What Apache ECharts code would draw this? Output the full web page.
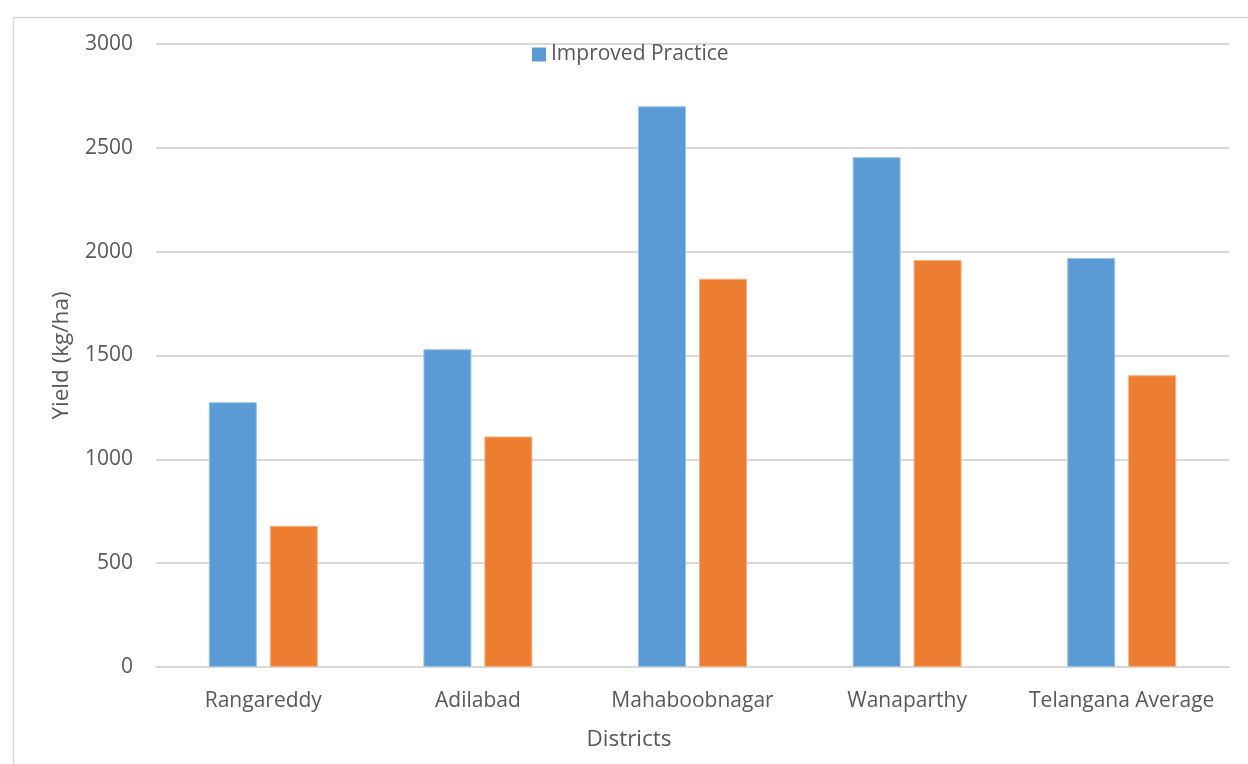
<!DOCTYPE html>
<html>
<head>
<meta charset="utf-8">
<script src="https://cdn.jsdelivr.net/npm/echarts@6/dist/echarts.min.js"></script>
<style>
  html, body { margin: 0; padding: 0; background: #ffffff; }
  #chart { width: 1248px; height: 764px; }
</style>
</head>
<body>
<div id="chart"></div>
<script>
// Yield by district, improved vs farmers' practice (kg/ha)
const districts = ['Rangareddy', 'Adilabad', 'Mahaboobnagar', 'Wanaparthy', 'Telangana Average'];
const improvedPractice = [1275, 1530, 2700, 2455, 1970];
const farmersPractice = [680, 1110, 1870, 1960, 1405];
const yTicks = { min: 0, max: 3000, step: 500 };

const textColor = '#595959';
const gridColor = '#d9d9d9';
const fontFamily = '"Open Sans", "Noto Sans", sans-serif';

const chart = echarts.init(document.getElementById('chart'), null, { renderer: 'canvas' });

chart.setOption({
  backgroundColor: '#ffffff',
  animation: false,
  textStyle: { fontFamily: fontFamily, color: textColor },
  graphic: [{
    type: 'rect',
    left: 11, top: 15,
    shape: { width: 1260, height: 800 },
    style: { fill: 'none', stroke: gridColor, lineWidth: 1.5 },
    silent: true, z: -10
  }],
  legend: {
    data: ['Improved Practice'],
    top: 39,
    left: 527,
    itemWidth: 14,
    itemHeight: 14,
    itemGap: 6,
    icon: 'rect',
    itemStyle: { borderWidth: 0 },
    textStyle: { fontSize: 21, color: textColor, fontFamily: fontFamily }
  },
  grid: { left: 156, right: 19, top: 44, bottom: 97, containLabel: false },
  xAxis: {
    type: 'category',
    data: districts,
    name: 'Districts',
    nameLocation: 'middle',
    nameGap: 61,
    nameTextStyle: {
      fontSize: 22.5, color: textColor, fontFamily: fontFamily,
      padding: [0, 127, 0, 0]
    },
    axisLine: { show: true, lineStyle: { color: gridColor, width: 2 } },
    axisTick: { show: false },
    axisLabel: { fontSize: 21, color: textColor, margin: 24, interval: 0, fontFamily: fontFamily }
  },
  yAxis: {
    type: 'value',
    min: yTicks.min,
    max: yTicks.max,
    interval: yTicks.step,
    name: 'Yield (kg/ha)',
    nameLocation: 'middle',
    nameGap: 83,
    nameTextStyle: { fontSize: 22.5, color: textColor, fontFamily: fontFamily },
    axisLine: { show: false },
    axisTick: { show: false },
    axisLabel: {
      fontSize: 21, color: textColor, margin: 23, fontFamily: fontFamily,
      formatter: function (v) { return String(v); }
    },
    splitLine: { lineStyle: { color: gridColor, width: 2 } }
  },
  series: [
    {
      name: 'Improved Practice',
      type: 'bar',
      data: improvedPractice,
      barWidth: 48,
      barGap: '27%',
      itemStyle: { color: '#5b9bd5', borderColor: '#9cc3e6', borderWidth: 1 }
    },
    {
      name: "Farmers' Practice",
      type: 'bar',
      data: farmersPractice,
      barWidth: 48,
      barGap: '27%',
      itemStyle: { color: '#ed7d31', borderColor: '#f4b183', borderWidth: 1 }
    }
  ]
});
</script>
</body>
</html>
